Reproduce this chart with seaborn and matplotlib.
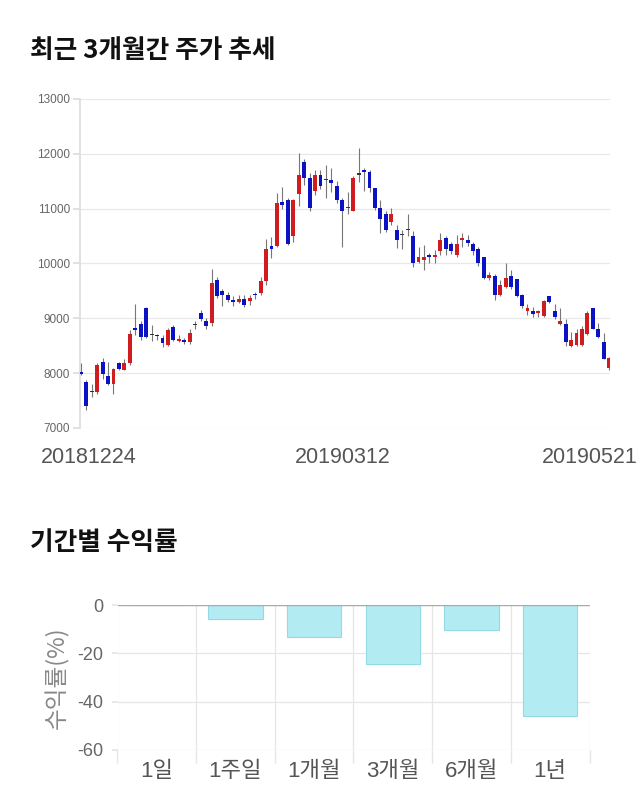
import numpy as np
import pandas as pd
import matplotlib
matplotlib.use("Agg")
import matplotlib.pyplot as plt
import matplotlib.transforms as mtransforms
from matplotlib.ticker import FixedLocator
import seaborn as sns

# ---------------- data ----------------
opens = [8020, 7830, 7650, 7650, 8200, 7950, 7800, 8180, 8060, 8180,
         8820, 8900, 9180, 8690, 8700, 8650, 8520, 8850, 8590, 8600,
         8560, 8880, 9090, 8960, 8920, 9690, 9490, 9420, 9340, 9300,
         9360, 9320, 9450, 9460, 9680, 10320, 10320, 11120, 11160, 10500,
         11260, 11860, 11560, 11320, 11620, 11520, 11520, 11420, 11160, 11010,
         10960, 11620, 11710, 11670, 11370, 11010, 10900, 10760, 10610, 10520,
         10610, 10500, 10020, 10060, 10150, 10110, 10220, 10460, 10350, 10150,
         10420, 10420, 10350, 10260, 10110, 9740, 9770, 9420, 9580, 9770,
         9710, 9420, 9130, 9130, 9090, 9040, 9400, 9130, 8900, 8900,
         8500, 8520, 8520, 8720, 9180, 8810, 8570, 8100]
closes = [7980, 7400, 7650, 8150, 7980, 7800, 8080, 8080, 8180, 8720,
          8780, 8660, 8660, 8690, 8680, 8550, 8780, 8600, 8610, 8560,
          8740, 8880, 8980, 8860, 9650, 9400, 9420, 9340, 9290, 9360,
          9250, 9370, 9430, 9680, 10270, 10270, 11110, 11060, 10350, 11160,
          11620, 11560, 11010, 11620, 11420, 11520, 11470, 11160, 10960, 11010,
          11560, 11620, 11670, 11370, 11010, 10810, 10610, 10900, 10420, 10520,
          10610, 10000, 10110, 10110, 10110, 10150, 10420, 10260, 10220, 10350,
          10470, 10380, 10220, 10000, 9730, 9790, 9420, 9600, 9730, 9570,
          9400, 9220, 9180, 9070, 9130, 9310, 9290, 9020, 8950, 8570,
          8600, 8740, 8810, 9090, 8810, 8660, 8260, 8280]
highs = [8180, 7870, 7800, 8180, 8270, 8200, 8100, 8200, 8250, 8780,
         9270, 8950, 9200, 8870, 8720, 8700, 8830, 8880, 8700, 8650,
         8800, 8960, 9150, 9010, 9900, 9750, 9530, 9480, 9400, 9430,
         9430, 9430, 9480, 9750, 10450, 10480, 11290, 11400, 11200, 11180,
         12020, 11900, 11650, 11700, 11700, 11800, 11740, 11500, 11200, 11300,
         11600, 12100, 11750, 11700, 11380, 11150, 10950, 11020, 10700, 10620,
         10900, 10600, 10300, 10340, 10200, 10250, 10550, 10500, 10400, 10520,
         10550, 10520, 10400, 10300, 10120, 9850, 9800, 9700, 10000, 9880,
         9720, 9450, 9270, 9200, 9150, 9330, 9410, 9270, 9190, 8980,
         8750, 8810, 8860, 9130, 9180, 8920, 8740, 8300]
lows = [7970, 7330, 7560, 7620, 7900, 7780, 7620, 8050, 8050, 8150,
        8700, 8600, 8650, 8580, 8600, 8480, 8500, 8580, 8560, 8540,
        8540, 8800, 8950, 8800, 8860, 9370, 9220, 9300, 9230, 9280,
        9200, 9250, 9350, 9420, 9600, 10100, 10300, 11000, 10340, 10400,
        11050, 11440, 10960, 11250, 11350, 11200, 11300, 11100, 10300, 10900,
        10950, 11480, 11330, 11300, 10980, 10560, 10580, 10700, 10280, 10260,
        10500, 9940, 10000, 9880, 10000, 10000, 10150, 10150, 10180, 10120,
        10300, 10320, 10150, 9950, 9720, 9700, 9340, 9400, 9560, 9540,
        9380, 9180, 9060, 9020, 9030, 9030, 9280, 8990, 8880, 8500,
        8470, 8500, 8500, 8700, 8800, 8640, 8250, 8050]
date_labels = ["20181224", "20190312", "20190521"]
date_label_idx = [0, 48, 97]
price_ticks = [7000, 8000, 9000, 10000, 11000, 12000, 13000]

periods = ["1일", "1주일", "1개월", "3개월", "6개월", "1년"]
returns = [0.0, -5.6, -13.2, -24.4, -10.5, -46.1]
return_ticks = [0, -20, -40, -60]

# ---------------- style ----------------
sns.set_theme(style="white")
plt.rcParams["font.family"] = ["Liberation Sans", "Noto Sans CJK KR"]

fig = plt.figure(figsize=(6.4, 8.1), dpi=100)
W, H = 640, 810

def axrect(l, t, r, b):
    return [l / W, 1 - b / H, (r - l) / W, (b - t) / H]

RED = "#d01c1f"
BLUE = "#0a12c4"

# ---------------- titles ----------------
fig.text(30 / W, 1 - 50 / H, "최근 3개월간 주가 추세", fontsize=18.5, fontweight="bold",
         family=["Noto Sans CJK KR"], va="center", ha="left", color="#111111")
fig.text(30 / W, 1 - 543 / H, "기간별 수익률", fontsize=18.5, fontweight="bold",
         family=["Noto Sans CJK KR"], va="center", ha="left", color="#111111")

# ---------------- candlestick ----------------
ax1 = fig.add_axes(axrect(80, 99, 610, 428))
df = pd.DataFrame({"open": opens, "close": closes, "high": highs, "low": lows})
df["idx"] = np.arange(len(df))
colors = np.where(df["close"] > df["open"], RED,
                  np.where(df["close"] < df["open"], BLUE, "#333333"))
body = (df["close"] - df["open"]).to_numpy(dtype=float)
body = np.where(np.abs(body) < 25, 25 * np.where(body < 0, -1, 1), body)
ax1.vlines(df["idx"], df["low"], df["high"], color="#777777", lw=0.8, zorder=2)
ax1.bar(df["idx"], body, bottom=df["open"], width=0.72, color=colors,
        linewidth=0, zorder=3)

ax1.set_xlim(-0.15, 97.15)
ax1.set_ylim(7000, 13000)
ax1.set_yticks(price_ticks)
ax1.set_yticklabels([str(v) for v in price_ticks], fontsize=8.5, color="#666666")
ax1.yaxis.grid(True, color="#e8e8e8", lw=0.9)
ax1.set_axisbelow(True)
for s in ["top", "right", "bottom"]:
    ax1.spines[s].set_visible(False)
ax1.spines["left"].set_color("#dddddd")
ax1.tick_params(axis="y", length=5, color="#dddddd", pad=2, left=True)
ax1.set_xticks(date_label_idx)
ax1.set_xticklabels(date_labels, fontsize=15.5, color="#555555")
ax1.tick_params(axis="x", length=0, pad=14)
offsets = [8, 0, -19]
for lab, dx in zip(ax1.get_xticklabels(), offsets):
    lab.set_transform(lab.get_transform() +
                      mtransforms.ScaledTranslation(dx / 100, 0, fig.dpi_scale_trans))

# ---------------- returns bar chart ----------------
ax2 = fig.add_axes(axrect(117.5, 605, 589.5, 750))
rdf = pd.DataFrame({"period": periods, "ret": returns})
sns.barplot(data=rdf, x="period", y="ret", color="#b3ebf3", saturation=1,
            edgecolor="#93d9e6", linewidth=0.8, width=0.69, ax=ax2, zorder=3)
ax2.set_xlim(-0.5, 5.5)
ax2.set_ylim(-60, 0)
ax2.set_yticks(return_ticks)
ax2.set_yticklabels([str(v) for v in return_ticks], fontsize=13, color="#666666")
ax2.yaxis.grid(True, color="#e6e6e6", lw=0.9)
ax2.xaxis.set_minor_locator(FixedLocator(np.arange(-0.5, 6, 1.0)))
ax2.xaxis.grid(True, which="minor", color="#e6e6e6", lw=0.9)
ax2.set_axisbelow(True)
ax2.axhline(0, color="#aaaaaa", lw=1.0, zorder=4)
for s in ["top", "right", "left", "bottom"]:
    ax2.spines[s].set_visible(False)
ax2.tick_params(axis="y", length=4, color="#e6e6e6", pad=6, left=True)
ax2.tick_params(axis="x", which="major", length=0, pad=8, labelsize=16,
                labelcolor="#555555")
ax2.tick_params(axis="x", which="minor", length=9, color="#e6e6e6", bottom=True)
for lab in ax2.get_xticklabels():
    lab.set_family(["Liberation Sans", "Noto Sans CJK KR"])
ax2.set_xlabel("")
ax2.set_ylabel("수익률(%)", fontsize=17, color="#888888", labelpad=6,
               family=["Noto Sans CJK KR"])

fig.savefig("out.png", dpi=100)
